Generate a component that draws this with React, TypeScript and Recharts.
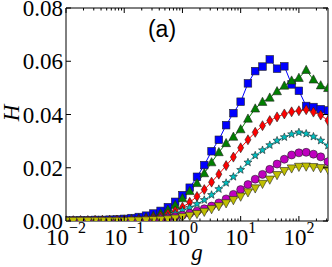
import React from 'react';
import { LineChart, Line, XAxis, YAxis } from 'recharts';

const gValues = [
  0.01, 0.01334, 0.01778, 0.02371, 0.03162, 0.04217, 0.05623, 0.07499,
  0.1, 0.1334, 0.1778, 0.2371, 0.3162, 0.4217, 0.5623, 0.7499,
  1, 1.334, 1.778, 2.371, 3.162, 4.217, 5.623, 7.499,
  10, 13.34, 17.78, 23.71, 31.62, 42.17, 56.23, 74.99,
  100, 133.4, 177.8, 237.1, 316.2,
];

const blueSquares = [
  0.0002, 0.0002, 0.0003, 0.0003, 0.0004, 0.0004, 0.0005, 0.0006,
  0.0008, 0.0011, 0.0015, 0.002, 0.0028, 0.0038, 0.0052, 0.0072,
  0.0097, 0.0125, 0.0166, 0.021, 0.0262, 0.0305, 0.036, 0.0405,
  0.0448, 0.0517, 0.0563, 0.058, 0.0607, 0.0572, 0.0581, 0.0513,
  0.0489, 0.0432, 0.0428, 0.042, 0.0415,
];

const greenTriangles = [
  0.0001, 0.0001, 0.0002, 0.0002, 0.0002, 0.0003, 0.0003, 0.0004,
  0.0005, 0.0007, 0.001, 0.0014, 0.002, 0.0029, 0.0042, 0.006,
  0.0085, 0.0112, 0.0142, 0.0179, 0.022, 0.0258, 0.0292, 0.0316,
  0.0344, 0.0384, 0.0422, 0.0447, 0.0463, 0.0487, 0.0508, 0.0527,
  0.0537, 0.0567, 0.0531, 0.0509, 0.0499,
];

const redDiamonds = [
  0.0001, 0.0001, 0.0001, 0.0001, 0.0002, 0.0002, 0.0002, 0.0003,
  0.0003, 0.0004, 0.0005, 0.0008, 0.0012, 0.0018, 0.0027, 0.0038,
  0.0052, 0.007, 0.0092, 0.0118, 0.0146, 0.0176, 0.0208, 0.024,
  0.0275, 0.0305, 0.0333, 0.0358, 0.0377, 0.0391, 0.0402, 0.041,
  0.0414, 0.0418, 0.0409, 0.0398, 0.0377,
];

const cyanStars = [
  0.0001, 0.0001, 0.0001, 0.0001, 0.0001, 0.0001, 0.0002, 0.0002,
  0.0002, 0.0003, 0.0004, 0.0006, 0.0009, 0.0013, 0.0019, 0.0028,
  0.004, 0.005, 0.0064, 0.0079, 0.0098, 0.012, 0.0143, 0.0166,
  0.0192, 0.022, 0.0246, 0.0266, 0.0285, 0.0302, 0.0315, 0.0326,
  0.0333, 0.0328, 0.0317, 0.0302, 0.0283,
];

const magentaCircles = [
  0.0001, 0.0001, 0.0001, 0.0001, 0.0001, 0.0001, 0.0001, 0.0002,
  0.0002, 0.0002, 0.0003, 0.0004, 0.0005, 0.0008, 0.0011, 0.0016,
  0.0022, 0.0029, 0.0037, 0.0046, 0.0056, 0.0068, 0.0083, 0.01,
  0.0118, 0.0137, 0.0157, 0.0175, 0.0194, 0.0214, 0.0232, 0.0248,
  0.0256, 0.0258, 0.0251, 0.0241, 0.0223,
];

const yellowTriangles = [
  0.0001, 0.0001, 0.0001, 0.0001, 0.0001, 0.0001, 0.0001, 0.0001,
  0.0001, 0.0002, 0.0002, 0.0003, 0.0004, 0.0005, 0.0007, 0.001,
  0.0015, 0.002, 0.0027, 0.0035, 0.0045, 0.0056, 0.0067, 0.0079,
  0.0092, 0.0108, 0.0123, 0.014, 0.0156, 0.0173, 0.0188, 0.0198,
  0.0204, 0.0205, 0.0203, 0.0199, 0.0193,
];

const xMajorTicks = [0.01, 0.1, 1, 10, 100];
const xTickExponents = ['\u22122', '\u22121', '0', '1', '2'];
const xMinorTicks = [
  0.02, 0.03, 0.04, 0.05, 0.06, 0.07, 0.08, 0.09,
  0.2, 0.3, 0.4, 0.5, 0.6, 0.7, 0.8, 0.9,
  2, 3, 4, 5, 6, 7, 8, 9,
  20, 30, 40, 50, 60, 70, 80, 90,
  200, 300,
];
const xAllTicks = [...xMajorTicks, ...xMinorTicks].sort((a, b) => a - b);
const yTicks = [0, 0.02, 0.04, 0.06, 0.08];
const yTickLabels = ['0.00', '0.02', '0.04', '0.06', '0.08'];

const xLabel = 'g';
const yLabel = 'H';
const panelLabel = '(a)';

const data = gValues.map((g, i) => ({
  g,
  blue: blueSquares[i],
  green: greenTriangles[i],
  red: redDiamonds[i],
  cyan: cyanStars[i],
  magenta: magentaCircles[i],
  yellow: yellowTriangles[i],
}));

const SERIF = "'Liberation Serif', 'DejaVu Serif', serif";
const EDGE = '#222';
const EW = 0.6;

const majorIndex = (v: number) => xMajorTicks.findIndex((m) => Math.abs(m - v) < m * 1e-6);

const XBottomTick = (props: any) => {
  const { x, y, payload } = props;
  const mi = majorIndex(payload.value);
  if (mi < 0) {
    return <line x1={x} x2={x} y1={y} y2={y - 2.5} stroke="#000" strokeWidth={1} />;
  }
  return (
    <g>
      <line x1={x} x2={x} y1={y} y2={y - 5} stroke="#000" strokeWidth={1} />
      <text x={x} y={y + 24} textAnchor="middle" fontFamily={SERIF} fontSize={23} fill="#000">
        <tspan>10</tspan>
        <tspan dy={-12} fontSize={16}>{xTickExponents[mi]}</tspan>
      </text>
    </g>
  );
};
const XTopTick = (props: any) => {
  const { x, y, payload } = props;
  const len = majorIndex(payload.value) < 0 ? 2.5 : 5;
  return <line x1={x} x2={x} y1={y} y2={y + len} stroke="#000" strokeWidth={1} />;
};
const YLeftTick = (props: any) => {
  const { x, y, index } = props;
  return (
    <g>
      <line x1={x} x2={x + 5} y1={y} y2={y} stroke="#000" strokeWidth={1} />
      <text x={x - 3} y={y + 8} textAnchor="end" fontFamily={SERIF} fontSize={23} fill="#000">
        {yTickLabels[index]}
      </text>
    </g>
  );
};
const YRightTick = (props: any) => {
  const { x, y } = props;
  return <line x1={x} x2={x - 5} y1={y} y2={y} stroke="#000" strokeWidth={1} />;
};

const squareDot = (p: any) => {
  if (p.cx == null || p.cy == null) return <g key={`s${p.index}`} />;
  return (
    <rect key={`s${p.index}`} x={p.cx - 3.8} y={p.cy - 3.8} width={7.6} height={7.6}
      fill="#0000ff" stroke={EDGE} strokeWidth={EW} />
  );
};
const triUpDot = (p: any) => {
  if (p.cx == null || p.cy == null) return <g key={`t${p.index}`} />;
  const { cx, cy } = p;
  const pts = `${cx},${cy - 4.8} ${cx - 4.4},${cy + 3.4} ${cx + 4.4},${cy + 3.4}`;
  return <polygon key={`t${p.index}`} points={pts} fill="#007f00" stroke={EDGE} strokeWidth={EW} />;
};
const diamondDot = (p: any) => {
  if (p.cx == null || p.cy == null) return <g key={`d${p.index}`} />;
  const { cx, cy } = p;
  const pts = `${cx},${cy - 5} ${cx + 3},${cy} ${cx},${cy + 5} ${cx - 3},${cy}`;
  return <polygon key={`d${p.index}`} points={pts} fill="#ff0000" stroke={EDGE} strokeWidth={EW} />;
};
const starDot = (p: any) => {
  if (p.cx == null || p.cy == null) return <g key={`st${p.index}`} />;
  const { cx, cy } = p;
  const pts: string[] = [];
  for (let i = 0; i < 10; i++) {
    const r = i % 2 === 0 ? 4.2 : 1.8;
    const a = -Math.PI / 2 + (i * Math.PI) / 5;
    pts.push(`${cx + r * Math.cos(a)},${cy + r * Math.sin(a)}`);
  }
  return <polygon key={`st${p.index}`} points={pts.join(' ')} fill="#00bfbf" stroke={EDGE} strokeWidth={EW} />;
};
const circleDot = (p: any) => {
  if (p.cx == null || p.cy == null) return <g key={`c${p.index}`} />;
  return <circle key={`c${p.index}`} cx={p.cx} cy={p.cy} r={4} fill="#bf00bf" stroke={EDGE} strokeWidth={EW} />;
};
const triDownDot = (p: any) => {
  if (p.cx == null || p.cy == null) return <g key={`v${p.index}`} />;
  const { cx, cy } = p;
  const pts = `${cx},${cy + 4.8} ${cx - 4.4},${cy - 3.4} ${cx + 4.4},${cy - 3.4}`;
  return <polygon key={`v${p.index}`} points={pts} fill="#bfbf00" stroke={EDGE} strokeWidth={EW} />;
};

const X_DOMAIN: [number, number] = [0.01, 316.2];
const Y_DOMAIN: [number, number] = [0, 0.08];

export default function App() {
  return (
    <div style={{ position: 'absolute', left: 0, top: 0, width: 332, height: 267, background: '#fff' }}>
      <LineChart width={332} height={267} data={data} margin={{ top: 0, right: 0, bottom: 0, left: 0 }}>
        <XAxis xAxisId="main" dataKey="g" type="number" scale="log" domain={X_DOMAIN} allowDataOverflow
          ticks={xAllTicks} interval={0} tickSize={0} tickMargin={0} height={46}
          axisLine={{ stroke: '#000', strokeWidth: 1 }} tickLine={false} tick={<XBottomTick />} />
        <XAxis xAxisId="top" orientation="top" dataKey="g" type="number" scale="log" domain={X_DOMAIN} allowDataOverflow
          ticks={xAllTicks} interval={0} tickSize={0} tickMargin={0} height={8}
          axisLine={{ stroke: '#000', strokeWidth: 1 }} tickLine={false} tick={<XTopTick />} />
        <YAxis yAxisId="left" type="number" domain={Y_DOMAIN} allowDataOverflow ticks={yTicks} interval={0}
          width={66} tickSize={0} tickMargin={0} axisLine={{ stroke: '#000', strokeWidth: 1 }} tickLine={false}
          tick={<YLeftTick />} />
        <YAxis yAxisId="right" orientation="right" type="number" domain={Y_DOMAIN} allowDataOverflow ticks={yTicks}
          interval={0} width={4} tickSize={0} tickMargin={0} axisLine={{ stroke: '#000', strokeWidth: 1 }}
          tickLine={false} tick={<YRightTick />} />
        <Line xAxisId="main" yAxisId="left" dataKey="blue" stroke="#0000ff" strokeWidth={1} dot={squareDot}
          activeDot={false} isAnimationActive={false} />
        <Line xAxisId="main" yAxisId="left" dataKey="green" stroke="#007f00" strokeWidth={1} dot={triUpDot}
          activeDot={false} isAnimationActive={false} />
        <Line xAxisId="main" yAxisId="left" dataKey="red" stroke="#ff0000" strokeWidth={1} dot={diamondDot}
          activeDot={false} isAnimationActive={false} />
        <Line xAxisId="main" yAxisId="left" dataKey="cyan" stroke="#00bfbf" strokeWidth={1} dot={starDot}
          activeDot={false} isAnimationActive={false} />
        <Line xAxisId="main" yAxisId="left" dataKey="magenta" stroke="#bf00bf" strokeWidth={1} dot={circleDot}
          activeDot={false} isAnimationActive={false} />
        <Line xAxisId="main" yAxisId="left" dataKey="yellow" stroke="#bfbf00" strokeWidth={1} dot={triDownDot}
          activeDot={false} isAnimationActive={false} />
      </LineChart>
      <svg width={332} height={267} style={{ position: 'absolute', left: 0, top: 0, pointerEvents: 'none' }}>
        <text x={197} y={260} textAnchor="middle" fontFamily={SERIF} fontStyle="italic" fontSize={23} fill="#000">
          {xLabel}
        </text>
        <text transform="translate(19,113) rotate(-90)" textAnchor="middle" fontFamily={SERIF} fontStyle="italic"
          fontSize={23} fill="#000">
          {yLabel}
        </text>
        <text x={162} y={37} textAnchor="middle" fontFamily="'Liberation Sans', Arial, sans-serif" fontSize={23}
          fill="#000">
          {panelLabel}
        </text>
      </svg>
    </div>
  );
}
